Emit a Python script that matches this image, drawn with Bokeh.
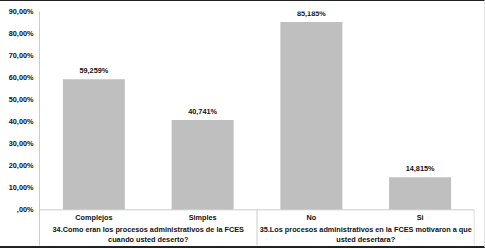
from bokeh.plotting import figure
from bokeh.models import ColumnDataSource, FactorRange, Range1d, FixedTicker, Span
from bokeh.core.properties import value
from bokeh.embed import file_html
from bokeh.resources import INLINE

categories = ["Complejos", "Simples", "No", "Si"]
values = [59.259, 40.741, 85.185, 14.815]
value_labels = ["59,259%", "40,741%", "85,185%", "14,815%"]
groups = ["34.Como eran los procesos administrativos de la FCES\ncuando usted deserto?",
          "35.Los procesos administrativos en la FCES motivaron a que\nusted desertara?"]
group_centers = [1.0, 3.0]
group_edges = [2.0, 3.998]
y_ticks = [0, 10, 20, 30, 40, 50, 60, 70, 80, 90]
y_tick_labels = [",00%", "10,00%", "20,00%", "30,00%", "40,00%", "50,00%",
                 "60,00%", "70,00%", "80,00%", "90,00%"]

FONT = "Liberation Sans"
FS = "7.3px"
GRID = "#cccccc"

p = figure(width=485, height=248, output_backend="svg", toolbar_location=None,
           x_range=FactorRange(factors=categories, range_padding=0),
           y_range=Range1d(-16.2, 90), x_axis_location=None,
           min_border_left=39, min_border_right=11, min_border_top=10, min_border_bottom=4)
p.styles = {"border-top": "1px solid #222", "border-bottom": "2px solid #222",
            "border-right": "1px solid #e4e4e4", "box-sizing": "border-box"}
p.outline_line_color = None
p.xgrid.visible = False
p.ygrid.visible = False
p.background_fill_color = "white"
p.border_fill_color = "white"

ax = p.yaxis[0]
ax.ticker = FixedTicker(ticks=y_ticks)
ax.major_label_overrides = {t: l for t, l in zip(y_ticks, y_tick_labels)}
ax.major_tick_in = 0
ax.major_tick_out = 0
ax.minor_tick_in = 0
ax.minor_tick_out = 0
ax.axis_line_color = GRID
ax.major_label_standoff = 6
ax.major_label_text_font = FONT
ax.major_label_text_font_size = FS
ax.major_label_text_font_style = "bold"
ax.major_label_text_color = "#111111"

src = ColumnDataSource(dict(x=categories, top=values, lab=value_labels))
p.vbar(x="x", top="top", width=0.57, source=src, fill_color="#bfbfbf", line_color=None)
p.text(x="x", y="top", text="lab", source=src, text_align="center", text_baseline="bottom",
       y_offset=-4, text_font=value(FONT), text_font_size=FS, text_font_style="bold",
       text_color="#111111")

p.add_layout(Span(location=0, dimension="width", line_color=GRID, line_width=1))

csrc = ColumnDataSource(dict(x=categories, y=[0] * len(categories)))
p.text(x="x", y="y", text="x", source=csrc, text_align="center", text_baseline="middle",
       y_offset=8, text_font=value(FONT), text_font_size=FS, text_font_style="bold",
       text_color="#111111")

gsrc = ColumnDataSource(dict(x=group_centers, y=[0, 0], t=groups))
p.text(x="x", y="y", text="t", source=gsrc, text_align="center", text_baseline="middle",
       y_offset=25, text_line_height=1.1, text_font=value(FONT), text_font_size=FS,
       text_font_style="bold", text_color="#111111")

dsrc = ColumnDataSource(dict(x0=group_edges, y0=[0, 0], y1=[-16.2, -16.2]))
p.segment(x0="x0", y0="y0", x1="x0", y1="y1", source=dsrc, line_color=GRID, line_width=1)

open("out.html", "w").write(file_html(p, INLINE))
